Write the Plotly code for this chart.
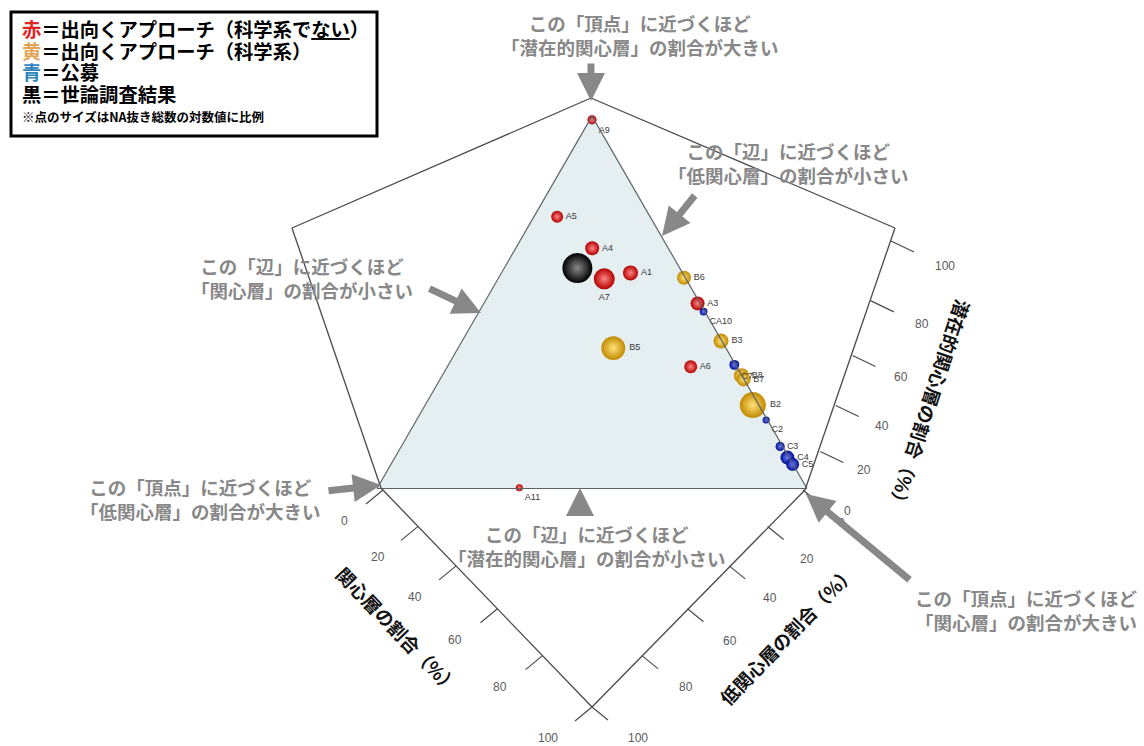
import math
import plotly.graph_objects as go

W, H = 1144, 746

# ---- samples: shares (%) of 潜在的関心層 / 低関心層 / 関心層 and valid response counts ----
red_names = ["A9", "A5", "A4", "A7", "A1", "A3", "A6", "A11"]
red_latent = [99.0, 73.0, 64.5, 56.3, 57.9, 49.7, 32.7, 0.2]
red_low = [0.5, 21.6, 17.7, 19.0, 12.1, 0.6, 10.7, 66.8]
red_high = [0.5, 5.4, 17.8, 24.7, 30.0, 49.7, 56.6, 33.0]
red_n = [10, 20, 33, 190, 43, 33, 26, 6]

yellow_names = ["B6", "B3", "B8", "B7", "B2", "B5"]
yellow_latent = [56.6, 39.6, 30.3, 29.3, 22.4, 37.7]
yellow_low = [0.3, 0.2, 0.1, 0.1, 1.4, 26.2]
yellow_high = [43.1, 60.2, 69.6, 70.6, 76.2, 36.1]
yellow_n = [33, 43, 43, 33, 670, 400]

blue_names = ["CA10", "C7", "C2", "C3", "C4", "C5"]
blue_latent = [47.5, 33.2, 18.4, 11.3, 8.3, 6.5]
blue_low = [0.3, 0.3, 0.3, 0.6, 0.4, 0.1]
blue_high = [52.2, 66.5, 81.3, 88.1, 91.3, 93.4]
blue_n = [7, 12, 6, 10, 33, 26]

survey_latent = [59.2]
survey_low = [23.8]
survey_high = [17.0]
survey_n = [1800]

tick_values = [0, 20, 40, 60, 80, 100]

# ---- styling ----
SIZE_PER_DECADE = 9.2          # marker diameter per log10(count)
LABEL_FONT = dict(size=9, color="#3a3a3a", family="Liberation Sans")
LABEL_OVERRIDES = {"A7": "bottom center", "C3": "middle right"}
FRAME_COLOR = "#4a4a4a"
NOTE_COLOR = "#888888"
JP = "Noto Sans CJK JP"


def xp(x):
    return x / W


def yp(y):
    return 1 - y / H


def spheres(names, a, b, c, n, center, edge, show_text=True):
    sizes = [SIZE_PER_DECADE * math.log10(v) for v in n]
    # small spheres carry their label slightly below, large ones beside them
    positions = [LABEL_OVERRIDES.get(nm, "bottom right" if s < 11 else "middle right")
                 for nm, s in zip(names, sizes)]
    return go.Scatterternary(
        a=a, b=b, c=c,
        text=names if show_text else None,
        mode="markers+text" if show_text else "markers",
        textposition=positions if show_text else None,
        textfont=LABEL_FONT,
        marker=dict(
            size=sizes,
            color=edge,
            gradient=dict(type="radial", color=center),
            line=dict(width=0),
            opacity=1,
        ),
        cliponaxis=False,
        hoverinfo="skip",
        showlegend=False,
    )


fig = go.Figure()
fig.add_trace(spheres(["世論調査"], survey_latent, survey_low, survey_high, survey_n,
                      "#8a8a8a", "#000000", show_text=False))
fig.add_trace(spheres(red_names, red_latent, red_low, red_high, red_n, "#ff8585", "#b30000"))
fig.add_trace(spheres(yellow_names, yellow_latent, yellow_low, yellow_high, yellow_n,
                      "#ffe27a", "#c28a00"))
fig.add_trace(spheres(blue_names, blue_latent, blue_low, blue_high, blue_n, "#6b7bff", "#00108f"))

# ---- ternary plane: a = 潜在的関心層 (top), b = 低関心層 (left), c = 関心層 (right) ----
tri_w = 430.0
tri_cx = 592.0
tri_base = 488.5
tri_h = tri_w * math.sqrt(3) / 2
tri_cy = tri_base - tri_h / 2
axis_style = dict(showticklabels=False, ticks="", showgrid=False, showline=True,
                  linecolor="#5c6466", linewidth=1.2, title=dict(text=""))
fig.update_layout(
    ternary=dict(
        domain=dict(x=[xp(tri_cx - tri_w / 2), xp(tri_cx + tri_w / 2)],
                    y=[yp(tri_cy) - 0.27, yp(tri_cy) + 0.27]),
        sum=100,
        bgcolor="#e5eef0",
        aaxis=axis_style, baxis=axis_style, caxis=axis_style,
    )
)

shapes = []
annotations = []


def seg(p, q, color=FRAME_COLOR, width=1.3):
    shapes.append(dict(type="line", xref="paper", yref="paper",
                       x0=xp(p[0]), y0=yp(p[1]), x1=xp(q[0]), y1=yp(q[1]),
                       line=dict(color=color, width=width)))


# ---- surrounding box edges (perspective view) ----
TOP = (591, 98)
LEFT = (292, 228)
RIGHT = (895, 228)
BL = (381, 488)
BR = (805, 490)
APEX = (592, 707)
seg(TOP, LEFT)
seg(LEFT, BL)
seg(TOP, RIGHT)
seg(RIGHT, BR)
seg(BL, APEX)
seg(BR, APEX)

DEPTH = 1.24  # foreshortening of the receding axes


def persp(t):
    return t / (t + DEPTH * (1 - t))


def axis_ticks(p0, p1, tick_vec, off0, off1):
    for v in tick_values:
        t = v / 100
        s = persp(t)
        bx = p0[0] + s * (p1[0] - p0[0])
        by = p0[1] + s * (p1[1] - p0[1])
        seg((bx, by), (bx + tick_vec[0], by + tick_vec[1]), width=1.2)
        ox = off0[0] + t * (off1[0] - off0[0])
        oy = off0[1] + t * (off1[1] - off0[1])
        annotations.append(dict(
            x=xp(bx + ox), y=yp(by + oy), xref="paper", yref="paper",
            text=str(v), showarrow=False, xanchor="center", yanchor="middle",
            font=dict(size=12, color="#5a5a5a", family="Liberation Sans")))


# 関心層 (lower left), 低関心層 (lower right), 潜在的関心層 (right)
axis_ticks((383, 490), APEX, (-17, 14), (-39, 31), (-44, 31))
axis_ticks((803, 490), APEX, (16, 13), (38, 33), (46, 31))
axis_ticks((806, 494), (891, 241), (23, 11), (41, 17), (54, 25))

# ---- axis titles ----
for text, cx, cy, ang in [
    ("関心層の割合（%）", 398, 630, 46),
    ("低関心層の割合（%）", 787, 635, -46),
    ("潜在的関心層の割合（%）", 930, 405, 108),
]:
    annotations.append(dict(
        x=xp(cx), y=yp(cy), xref="paper", yref="paper", text=f"<b>{text}</b>",
        showarrow=False, textangle=ang, xanchor="center", yanchor="middle",
        font=dict(size=18.5, color="#111111", family=JP)))

# ---- explanatory notes and arrows ----
notes = [
    ("この「頂点」に近づくほど<br>「潜在的関心層」の割合が大きい", 640, 35),
    ("この「辺」に近づくほど<br>「低関心層」の割合が小さい", 788, 163),
    ("この「辺」に近づくほど<br>「関心層」の割合が小さい", 302, 278),
    ("この「頂点」に近づくほど<br>「低関心層」の割合が大きい", 200, 499),
    ("この「辺」に近づくほど<br>「潜在的関心層」の割合が小さい", 587, 546),
    ("この「頂点」に近づくほど<br>「関心層」の割合が大きい", 1026, 610),
]
for text, cx, cy in notes:
    annotations.append(dict(
        x=xp(cx), y=yp(cy), xref="paper", yref="paper", text=f"<b>{text}</b>",
        showarrow=False, xanchor="center", yanchor="middle", align="center",
        font=dict(size=18.5, color=NOTE_COLOR, family=JP)))

arrows = [
    ((591, 101), (591, 62)),
    ((662, 236), (696, 194)),
    ((481, 313), (428, 288)),
    ((381, 485), (327, 491)),
    ((580, 488), (580, 517)),
    ((806, 494), (911, 581)),
]
for head, tail in arrows:
    annotations.append(dict(
        x=xp(head[0]), y=yp(head[1]), xref="paper", yref="paper", text="",
        showarrow=True, ax=tail[0] - head[0], ay=tail[1] - head[1],
        axref="pixel", ayref="pixel", arrowhead=2, arrowsize=0.8,
        arrowwidth=7, arrowcolor=NOTE_COLOR, standoff=0, startstandoff=0))

# ---- legend box ----
shapes.append(dict(type="rect", xref="paper", yref="paper",
                   x0=xp(11), y0=yp(12), x1=xp(377), y1=yp(136),
                   line=dict(color="#000000", width=3), fillcolor="#ffffff"))
legend_lines = [
    ('<span style="color:#e02424">赤</span>＝出向くアプローチ（科学系で<u>ない</u>）', 29, 19.3),
    ('<span style="color:#e3a456">黄</span>＝出向くアプローチ（科学系）', 51, 19.3),
    ('<span style="color:#2f86bf">青</span>＝公募', 72, 19.3),
    ('黒＝世論調査結果', 94, 19.3),
    ('※点のサイズはNA抜き総数の対数値に比例', 116, 12.5),
]
for text, cy, size in legend_lines:
    annotations.append(dict(
        x=xp(20), y=yp(cy), xref="paper", yref="paper", text=f"<b>{text}</b>",
        showarrow=False, xanchor="left", yanchor="middle",
        font=dict(size=size, color="#000000", family=JP)))

fig.update_layout(
    width=W, height=H,
    margin=dict(l=0, r=0, t=0, b=0),
    paper_bgcolor="#ffffff",
    plot_bgcolor="#ffffff",
    shapes=shapes,
    annotations=annotations,
    showlegend=False,
)

fig.write_html("out.html")
